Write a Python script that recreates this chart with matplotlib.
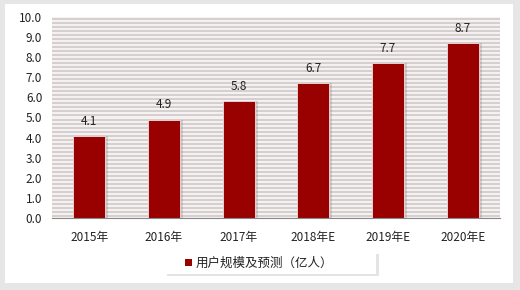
import numpy as np
import matplotlib.pyplot as plt
from matplotlib.patches import Rectangle

plt.rcParams['font.family'] = ['Noto Sans CJK SC', 'DejaVu Sans']

years = ["2015年", "2016年", "2017年", "2018年E", "2019年E", "2020年E"]
users = [4.1, 4.9, 5.8, 6.7, 7.7, 8.7]
legend_label = "用户规模及预测（亿人）"

bar_color = "#990000"

fig = plt.figure(figsize=(5.2, 2.9), dpi=100)
fig.patch.set_facecolor("#e6e6e6")
# panel blanc
fig.patches.append(Rectangle((5/520, 7/290), 508/520, 279/290, transform=fig.transFigure,
                             facecolor="white", edgecolor="none", zorder=-5))

ax = fig.add_axes([52/520, 72/290, 448/520, 201/290])
ax.set_zorder(5)
ax.set_facecolor("#f6f1f1")

# fond rayé
stripes = np.arange(0.1, 10.0, 0.2)
ax.hlines(stripes, -0.5, 5.5, color="#d0c9c9", linewidth=1.2, zorder=0)

x = np.arange(len(years))
w = 0.43
# ombre des barres
ax.bar(x + 0.04, users, width=w, color="#888888", alpha=0.3, zorder=1)
ax.bar(x, users, width=w, color=bar_color, edgecolor="#f0e0e0", linewidth=0.6,
       zorder=2, label=legend_label)

for xi, v in zip(x, users):
    ax.text(xi, v + 0.4, f"{v:.1f}", ha="center", va="bottom", fontsize=8.5, color="#222222")

ax.set_xlim(-0.5, 5.5)
ax.set_ylim(0, 10)
ax.set_yticks(np.arange(0, 10.1, 1.0))
ax.set_yticklabels([f"{t:.1f}" for t in np.arange(0, 10.1, 1.0)])
ax.set_xticks(x)
ax.set_xticklabels(years)
ax.tick_params(axis="both", length=0, labelsize=8.5, colors="#222222")
ax.tick_params(axis="y", pad=7)
ax.tick_params(axis="x", pad=9)

for s in ["top", "right", "left"]:
    ax.spines[s].set_visible(False)
ax.spines["bottom"].set_color("#888888")
ax.spines["bottom"].set_linewidth(0.8)

# légende
fig.patches.append(Rectangle((167/520, 14/290), 212/520, 22/290, transform=fig.transFigure,
                             facecolor="#e4e4e4", edgecolor="none", zorder=1))
fig.patches.append(Rectangle((164/520, 16/290), 212/520, 22/290, transform=fig.transFigure,
                             facecolor="white", edgecolor="none", zorder=2))
fig.patches.append(Rectangle((185/520, 24/290), 7/520, 7/290, transform=fig.transFigure,
                             facecolor=bar_color, edgecolor="none", zorder=3))
fig.text(196/520, 27/290, legend_label, fontsize=9, va="center", ha="left",
         color="#222222", zorder=4)

fig.savefig("out.png", dpi=100, facecolor=fig.get_facecolor())
